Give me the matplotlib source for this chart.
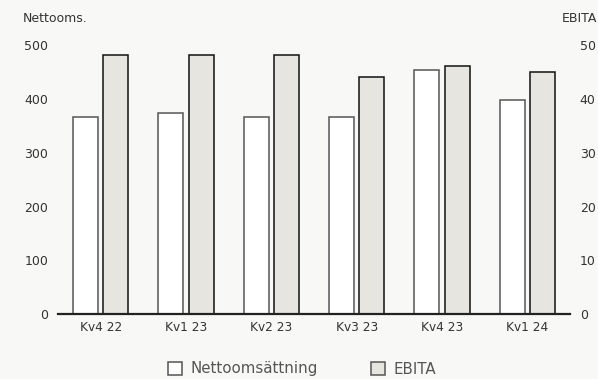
import matplotlib

matplotlib.use("Agg")
import matplotlib.pyplot as plt
import numpy as np
from matplotlib.patches import Patch

# data
quarters = ["Kv4 22", "Kv1 23", "Kv2 23", "Kv3 23", "Kv4 23", "Kv1 24"]
net_sales = [366, 373, 366, 367, 454, 398]   # left axis, Nettooms.
ebita = [48.1, 48.1, 48.1, 44.1, 46.1, 45.0]  # right axis, EBITA

bg = "#f8f8f6"
grey = "#e6e5e0"
text_col = "#333333"

plt.rcParams["font.family"] = ["DejaVu Sans"]

fig = plt.figure(figsize=(5.98, 3.79), dpi=100, facecolor=bg)
W, H = 598, 379
ax = fig.add_axes([58 / W, 1 - 314.3 / H, (570 - 58) / W, (314.3 - 45) / H])
ax.set_facecolor(bg)
ax2 = ax.twinx()

x = np.arange(len(quarters))
w = 0.293
off = 0.176

ax.bar(x - off, net_sales, width=w, color="white", edgecolor="#555555", linewidth=1.1, zorder=2)
ax2.bar(x + off, ebita, width=w, color=grey, edgecolor="#111111", linewidth=1.1, zorder=2)

ax.set_xlim(-0.5, len(quarters) - 0.5)
ax.set_ylim(0, 500)
ax2.set_ylim(0, 50)

ax.set_yticks(np.arange(0, 501, 100))
ax2.set_yticks(np.arange(0, 51, 10))
ax.set_xticks(x)
ax.set_xticklabels(quarters)

for a in (ax, ax2):
    for s in a.spines.values():
        s.set_visible(False)
    a.tick_params(length=0, labelsize=9, labelcolor=text_col)
ax.tick_params(axis="y", pad=7)
ax2.tick_params(axis="y", pad=7)
ax.tick_params(axis="x", pad=5, labelsize=8.7)

ax2.axhline(0, color="#222222", linewidth=1.6, zorder=5, clip_on=False)

fig.text(23 / W, 1 - 18.5 / H, "Nettooms.", fontsize=9, color=text_col, va="center", ha="left")
fig.text(597 / W, 1 - 18.5 / H, "EBITA", fontsize=9, color=text_col, va="center", ha="right")

# legend entries placed where the reference has them
entries = [
    (168, Patch(facecolor="white", edgecolor="#555555", linewidth=1.1, label="Nettoomsättning")),
    (371, Patch(facecolor=grey, edgecolor="#555555", linewidth=1.1, label="EBITA")),
]
for xpix, h in entries:
    leg = fig.legend(handles=[h], loc="center left", bbox_to_anchor=(xpix / W, 10 / H),
                     frameon=False, fontsize=10.8, handlelength=0.95, handleheight=0.95,
                     handletextpad=0.55, borderpad=0, borderaxespad=0, labelcolor="#555555")

fig.savefig("out.png", dpi=100, facecolor=bg)
